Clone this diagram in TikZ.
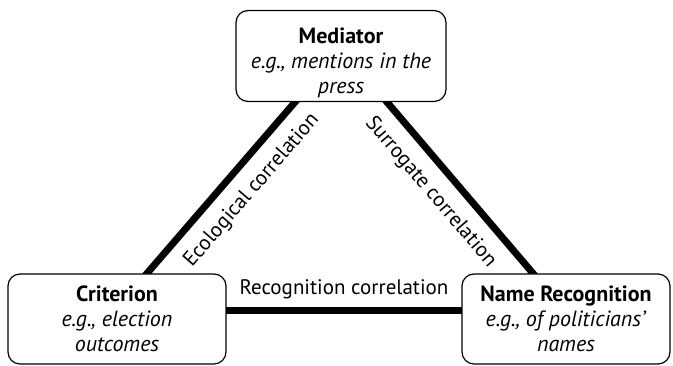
\documentclass[tikz,border=0pt]{standalone}
\usepackage{fontspec}
\setmainfont{PT Sans}
\usetikzlibrary{backgrounds}

\tikzset{
  factor/.style={draw, fill=white, line width=1.2pt, rounded corners=12pt, align=center,
    font=\fontsize{22}{25}\selectfont, inner sep=0pt},
  corr/.style={line width=7pt, shorten <=-4pt, shorten >=-4pt},
  corrlabel/.style={font=\fontsize{21}{24}\selectfont, inner sep=3pt}
}

\begin{document}
\begin{tikzpicture}[x=1pt,y=1pt]
		%%%%% FRAME %%%%%
		\useasboundingbox (0,0) rectangle (673,366);
		
		%%%%% BOXES %%%%%
		\node[factor, minimum width=210pt, minimum height=91pt] (med) at (341,310)
			{\rule{0pt}{29pt}\textbf{Mediator}\\ \textit{e.g., mentions in the}\\ \textit{press}};
		\node[factor, minimum width=218pt, minimum height=90pt] (crit) at (117,47)
			{\textbf{Criterion}\\ \textit{e.g., election}\\ \textit{outcomes}};
		\node[factor, minimum width=208pt, minimum height=90pt] (rec) at (566,47)
			{\textbf{Name Recognition}\\ \textit{e.g., of politicians'}\\ \textit{names}};
		
		%%%%% CORRELATIONS %%%%%
		\begin{pgfonlayer}{background}
		\draw[corr] ([xshift=30pt]crit.north) -- node[corrlabel, sloped, pos=0.58, below=9pt] {Ecological correlation} ([xshift=-46pt]med.south);
		\draw[corr] ([xshift=46pt]med.south) -- node[corrlabel, sloped, pos=0.43, below=9pt] {Surrogate correlation} ([xshift=-33pt]rec.north);
		\draw[corr] ([yshift=8pt]crit.east) -- node[corrlabel, midway, above=6pt] {Recognition correlation} ([yshift=8pt]rec.west);
		\end{pgfonlayer}
	\end{tikzpicture}
\end{document}
